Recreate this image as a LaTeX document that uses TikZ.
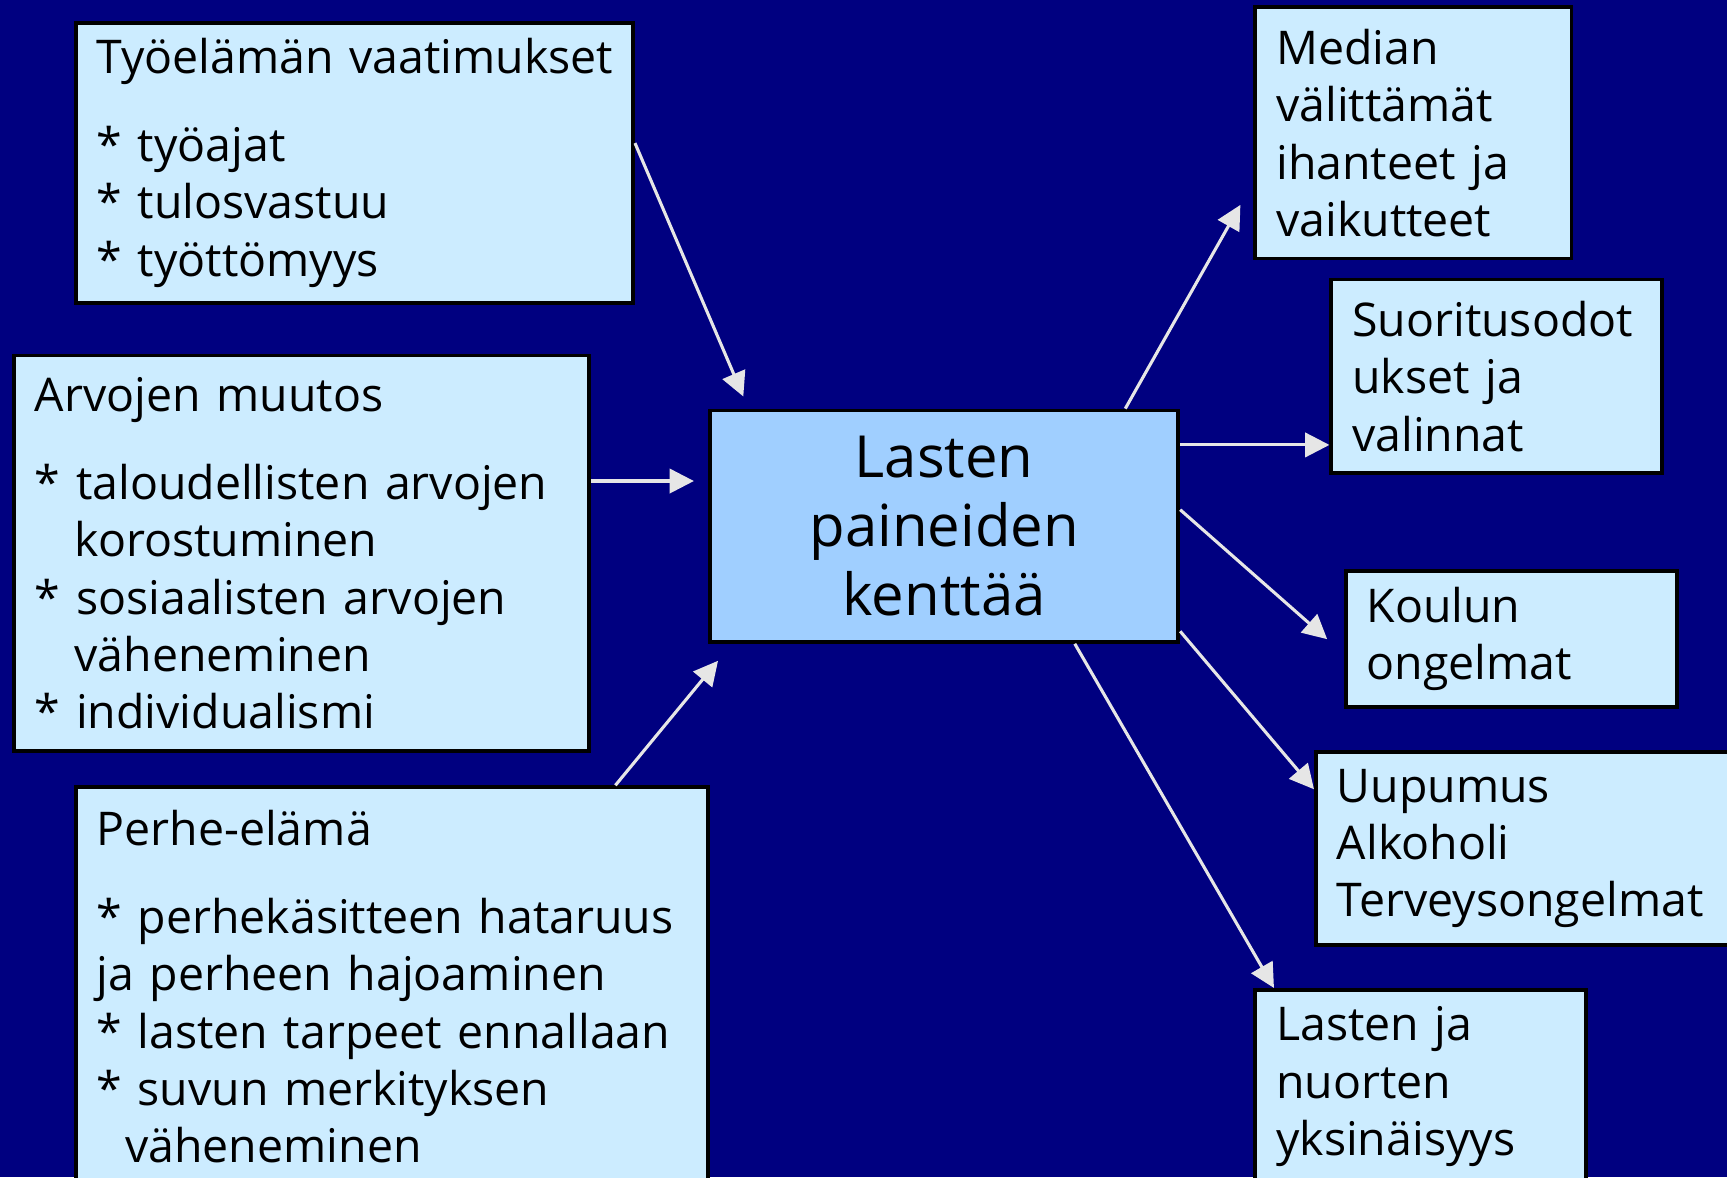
\documentclass[tikz,border=0pt]{standalone}
\usepackage{fontspec}
\setmainfont{Open Sans}
\usetikzlibrary{arrows.meta}
\definecolor{taustavari}{HTML}{000080}
\definecolor{laatikkovari}{HTML}{CCECFF}
\definecolor{keskusvari}{HTML}{A0CFFF}
\definecolor{nuolivari}{HTML}{E6E6E6}
\tikzset{
  laatikko/.style={draw=black,line width=1pt,fill=laatikkovari,rectangle,
    anchor=north west,inner xsep=0.19cm,inner ysep=0pt,align=left,
    font=\fontsize{12}{14.8}\selectfont},
  nuoliviiva/.style={draw=nuolivari,line width=0.8pt,->}
}
\begin{document}
\begin{tikzpicture}[>={Triangle[length=2.2mm,width=2.2mm]}]
\useasboundingbox (0,0) rectangle (15.68,-10.69);
\clip (0,0) rectangle (15.68,-10.69);
\fill[taustavari] (0,0) rectangle (15.68,-10.69);
% syyt
\node[laatikko,text width=4.68cm,minimum height=2.54cm] (tyo) at (0.67,-0.19)
  {\mbox{Työelämän vaatimukset}\\[2.8mm]
   {*} työajat\\
   {*} tulosvastuu\\
   {*} työttömyys};
\node[laatikko,text width=4.84cm,minimum height=3.59cm] (arvo) at (0.11,-3.21)
  {Arvojen muutos\\[2.8mm]
   {*} \mbox{taloudellisten arvojen}\\
   \hspace*{3.6mm}korostuminen\\
   {*} sosiaalisten arvojen\\
   \hspace*{3.6mm}väheneminen\\
   {*} individualismi};
\node[laatikko,text width=5.36cm,minimum height=3.62cm] (perhe) at (0.67,-7.13)
  {Perhe-elämä\\[2.8mm]
   {*} \mbox{perhekäsitteen hataruus}\\
   ja perheen hajoaminen\\
   {*} lasten tarpeet ennallaan\\
   {*} suvun merkityksen\\
   \hspace*{2.6mm}väheneminen};
% keskus
\node[laatikko,fill=keskusvari,text width=3.87cm,minimum height=2.10cm,
  align=center,font=\fontsize{15}{17.9}\selectfont] (lapsi) at (6.43,-3.71)
  {Lasten\\ paineiden\\ kenttää};
% seuraukset
\node[laatikko,text width=2.49cm,minimum height=2.28cm] (media) at (11.38,-0.05)
  {Median\\ välittämät\\ ihanteet ja\\ vaikutteet};
\node[laatikko,text width=2.62cm,minimum height=1.76cm] (suor) at (12.07,-2.52)
  {Suoritusodot\\ ukset ja\\ valinnat};
\node[laatikko,text width=2.63cm,minimum height=1.23cm] (koulu) at (12.20,-5.17)
  {Koulun\\ ongelmat};
\node[laatikko,text width=3.59cm,minimum height=1.75cm] (uupu) at (11.93,-6.81)
  {Uupumus\\ Alkoholi\\ Terveysongelmat};
\node[laatikko,text width=2.62cm,minimum height=1.76cm] (yksin) at (11.38,-8.97)
  {Lasten ja\\ nuorten\\ yksinäisyys};
% nuolet
\draw[nuoliviiva,shorten >=0.12cm] (tyo.4) -- (lapsi.149.5);
\draw[nuoliviiva,shorten >=0.13cm] (arvo.14.9) -- (arvo.14.9 -| lapsi.west);
\draw[nuoliviiva,shorten >=0.2cm] (perhe.42.4) -- (lapsi.209.6);
\draw[nuoliviiva,shorten >=0.24cm] (lapsi.33) -- (media.197.8);
\draw[nuoliviiva] (lapsi.19) -- (lapsi.19 -| suor.west);
\draw[nuoliviiva,shorten >=0.2cm] (lapsi.4.3) -- (koulu.185.6);
\draw[nuoliviiva] (lapsi.336.4) -- (uupu.165.7);
\draw[nuoliviiva] (lapsi.318.2) -- (yksin.146.9);
\end{tikzpicture}
\end{document}
